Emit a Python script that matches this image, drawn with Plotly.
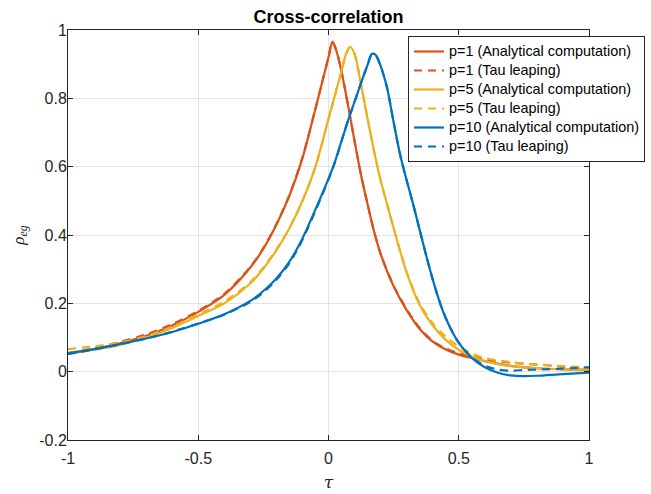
import plotly.graph_objects as go

# ---------------- data ----------------
tau_p1 = [-1, -0.9, -0.8, -0.7, -0.6, -0.5, -0.4, -0.3, -0.25, -0.2, -0.15, -0.1, -0.05, -0.02, 0,
          0.015, 0.03, 0.05, 0.075, 0.1, 0.125, 0.15, 0.175, 0.2, 0.25, 0.3, 0.35, 0.4, 0.45, 0.5,
          0.55, 0.6, 0.7, 0.8, 0.9, 1]
rho_p1_ana = [0.052, 0.066, 0.083, 0.105, 0.135, 0.175, 0.225, 0.305, 0.36, 0.43, 0.515, 0.625, 0.77, 0.86, 0.92,
              0.966, 0.94, 0.878, 0.78, 0.675, 0.575, 0.49, 0.41, 0.345, 0.25, 0.18, 0.125, 0.088, 0.065, 0.05,
              0.04, 0.031, 0.017, 0.01, 0.007, 0.005]
rho_p1_tau = [0.053, 0.069, 0.087, 0.109, 0.139, 0.178, 0.228, 0.307, 0.362, 0.432, 0.517, 0.627, 0.77, 0.86, 0.92,
              0.964, 0.94, 0.878, 0.78, 0.675, 0.575, 0.49, 0.41, 0.345, 0.252, 0.183, 0.128, 0.09, 0.068, 0.054,
              0.044, 0.036, 0.026, 0.021, 0.015, 0.01]

tau_p5 = [-1, -0.9, -0.8, -0.7, -0.6, -0.5, -0.4, -0.3, -0.25, -0.2, -0.15, -0.1, -0.05, 0,
          0.025, 0.05, 0.068, 0.083, 0.1, 0.125, 0.15, 0.175, 0.2, 0.225, 0.25, 0.3, 0.35, 0.4, 0.45, 0.5,
          0.55, 0.6, 0.7, 0.8, 0.9, 1]
rho_p5_ana = [0.055, 0.064, 0.078, 0.1, 0.128, 0.163, 0.2, 0.258, 0.302, 0.355, 0.42, 0.5, 0.6, 0.74,
              0.81, 0.88, 0.932, 0.951, 0.93, 0.84, 0.74, 0.645, 0.56, 0.49, 0.42, 0.29, 0.195, 0.135, 0.093, 0.064,
              0.044, 0.031, 0.016, 0.01, 0.007, 0.006]
rho_p5_tau = [0.066, 0.074, 0.085, 0.104, 0.132, 0.168, 0.205, 0.262, 0.305, 0.358, 0.42, 0.5, 0.6, 0.74,
              0.81, 0.88, 0.93, 0.949, 0.93, 0.84, 0.74, 0.645, 0.56, 0.49, 0.42, 0.292, 0.2, 0.142, 0.102, 0.074,
              0.053, 0.04, 0.028, 0.021, 0.016, 0.013]

tau_p10 = [-1, -0.9, -0.8, -0.7, -0.6, -0.5, -0.4, -0.3, -0.25, -0.2, -0.15, -0.1, -0.05, 0,
           0.025, 0.05, 0.075, 0.1, 0.125, 0.15, 0.166, 0.18, 0.2, 0.225, 0.25, 0.275, 0.3, 0.325, 0.35, 0.375,
           0.4, 0.425, 0.45, 0.475, 0.5, 0.55, 0.6, 0.65, 0.7, 0.75, 0.8, 0.9, 1]
rho_p10_ana = [0.054, 0.066, 0.081, 0.097, 0.116, 0.14, 0.168, 0.207, 0.236, 0.273, 0.322, 0.39, 0.475, 0.565,
               0.615, 0.675, 0.735, 0.79, 0.845, 0.898, 0.93, 0.928, 0.895, 0.83, 0.73, 0.635, 0.56, 0.49, 0.415, 0.34,
               0.27, 0.208, 0.157, 0.117, 0.085, 0.04, 0.013, -0.003, -0.011, -0.013, -0.012, -0.007, -0.003]
rho_p10_tau = [0.052, 0.065, 0.08, 0.097, 0.117, 0.141, 0.167, 0.204, 0.232, 0.269, 0.318, 0.386, 0.471, 0.562,
               0.613, 0.675, 0.735, 0.79, 0.845, 0.898, 0.928, 0.927, 0.895, 0.83, 0.73, 0.635, 0.56, 0.49, 0.415, 0.34,
               0.27, 0.208, 0.157, 0.117, 0.085, 0.042, 0.018, 0.006, 0.003, 0.005, 0.006, 0.009, 0.013]

x_ticks = [-1, -0.5, 0, 0.5, 1]
x_tick_labels = ["-1", "-0.5", "0", "0.5", "1"]
y_ticks = [-0.2, 0, 0.2, 0.4, 0.6, 0.8, 1]
y_tick_labels = ["-0.2", "0", "0.2", "0.4", "0.6", "0.8", "1"]

series_names = ["p=1 (Analytical computation)", "p=1 (Tau leaping)",
                "p=5 (Analytical computation)", "p=5 (Tau leaping)",
                "p=10 (Analytical computation)", "p=10 (Tau leaping)"]
series = [
    (series_names[0], tau_p1, rho_p1_ana, "#D95319", "solid"),
    (series_names[1], tau_p1, rho_p1_tau, "#D95319", "8px,6px"),
    (series_names[2], tau_p5, rho_p5_ana, "#EDB120", "solid"),
    (series_names[3], tau_p5, rho_p5_tau, "#EDB120", "8px,6px"),
    (series_names[4], tau_p10, rho_p10_ana, "#0072BD", "solid"),
    (series_names[5], tau_p10, rho_p10_tau, "#0072BD", "8px,6px"),
]

# ---------------- figure ----------------
fig = go.Figure()
for name, xs, ys, col, dash in series:
    fig.add_trace(go.Scatter(
        x=xs, y=ys, mode="lines",
        name='<span style="font-size:14.4px">' + name + '</span>',
        line=dict(color=col, width=2.2, dash=dash, shape="spline", smoothing=0.8),
    ))

FONT = "Liberation Sans, Arial, Helvetica, sans-serif"
AX = "#262626"
GRID = "#e3e3e3"

fig.update_layout(
    width=651, height=494,
    margin=dict(l=68, r=62, t=30, b=54, autoexpand=False),
    paper_bgcolor="white", plot_bgcolor="white",
    font=dict(family=FONT, size=16, color=AX),
    title=dict(text="<b>Cross-correlation</b>", x=(68 + 589) / 2 / 651, xanchor="center",
               y=1 - 16.5 / 494, yanchor="middle", yref="container", automargin=False,
               font=dict(family=FONT, size=18, color="#000000")),
    showlegend=True,
    legend=dict(x=(408 - 68) / 521, y=(440 - 36) / 410, xanchor="left", yanchor="top",
                bgcolor="white", bordercolor=AX, borderwidth=1,
                font=dict(family=FONT, size=12.3, color="#000000"),
                tracegroupgap=0, itemwidth=30),
    xaxis=dict(range=[-1, 1], tickvals=x_ticks, ticktext=x_tick_labels, automargin=False,
               showline=True, linecolor=AX, linewidth=1, mirror="ticks",
               ticks="inside", ticklen=5, tickcolor=AX, ticklabelstandoff=4,
               showgrid=True, gridcolor=GRID, zeroline=False,
               tickfont=dict(size=16, color=AX),
               title=dict(text="<i>τ</i>", standoff=9,
                          font=dict(family="DejaVu Serif, Liberation Serif, serif", size=17, color=AX))),
    yaxis=dict(range=[-0.2, 1], tickvals=y_ticks, ticktext=y_tick_labels, automargin=False,
               showline=True, linecolor=AX, linewidth=1, mirror="ticks",
               ticks="inside", ticklen=5, tickcolor=AX, ticklabelstandoff=-3,
               showgrid=True, gridcolor=GRID, zeroline=False,
               tickfont=dict(size=16, color=AX),
               title=dict(text="<i>ρ</i><sub><i>eg</i></sub>", standoff=10,
                          font=dict(family="Liberation Serif, DejaVu Serif, serif", size=17, color=AX))),
)

fig.write_html("out.html", config={"displayModeBar": False},
               post_script="document.body.style.margin='0';document.body.style.padding='0';")
